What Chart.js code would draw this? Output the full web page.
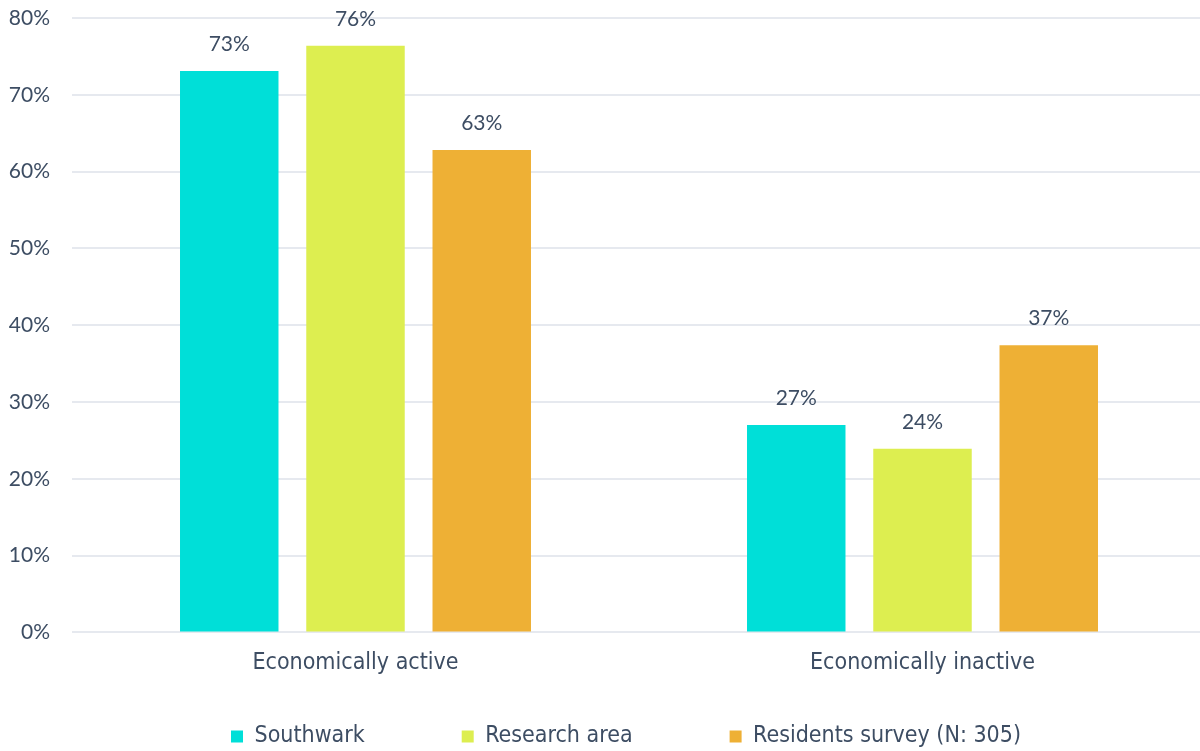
<!DOCTYPE html>
<html>
<head>
<meta charset="utf-8">
<script src="https://cdn.jsdelivr.net/npm/chart.js@4.4.1/dist/chart.umd.min.js"></script>
<style>
  html, body { margin: 0; padding: 0; background: #ffffff; }
  #wrap { width: 1200px; height: 751px; }
</style>
</head>
<body>
<div id="wrap"><canvas id="econChart" width="1200" height="751"></canvas></div>
<script>
// categories and series (percent)
const categories = ['Economically active', 'Economically inactive'];
const southwark = [73.1, 27.0];
const researchArea = [76.4, 23.9];
const residentsSurvey = [62.8, 37.4];
const seriesNames = ['Southwark', 'Research area', 'Residents survey (N: 305)'];
const seriesColors = ['#00dfd8', '#ddee50', '#eeb035'];
const yTicks = [0, 10, 20, 30, 40, 50, 60, 70, 80];

const textColor = '#3d4d63';
const labelFont = 'DejaVu Sans Condensed';
const numFont = 'Lato';

// draws the rounded value above each bar
const valueLabels = {
    id: 'valueLabels',
    afterDatasetsDraw(chart) {
        const ctx = chart.ctx;
        ctx.save();
        ctx.font = '21px ' + numFont;
        ctx.fillStyle = textColor;
        ctx.textAlign = 'center';
        ctx.textBaseline = 'bottom';
        chart.data.datasets.forEach((ds, i) => {
            chart.getDatasetMeta(i).data.forEach((bar, j) => {
                ctx.fillText(Math.round(ds.data[j]) + '%', bar.x, bar.y - 16);
            });
        });
        ctx.restore();
    }
};

// legend sits a bit right of centre, and the category axis runs slightly past the right edge
const layoutTweak = {
    id: 'layoutTweak',
    afterLayout(chart) {
        chart.legend.left += 26;
        chart.legend.right += 26;
        const x = chart.scales.x;
        x.right += 6;
        x.width += 6;
        x.configure();
    }
};

function drawChart() {
    const canvas = document.getElementById('econChart');
    if (!canvas) return;
    const ctx = canvas.getContext('2d');
    new Chart(ctx, {
        type: 'bar',
        data: {
            labels: categories,
            datasets: [southwark, researchArea, residentsSurvey].map((vals, i) => ({
                label: seriesNames[i],
                data: vals,
                backgroundColor: seriesColors[i],
                borderWidth: 0,
                categoryPercentage: 0.668,
                barPercentage: 0.78
            }))
        },
        options: {
            responsive: false,
            animation: false,
            layout: { padding: { top: 18, right: 0, bottom: -7, left: 0 } },
            scales: {
                x: {
                    grid: { display: false, drawTicks: false },
                    border: { display: false },
                    ticks: {
                        color: textColor,
                        font: { family: labelFont, size: 23 },
                        padding: 17
                    },
                    afterFit: axis => { axis.height += 26; }
                },
                y: {
                    min: 0,
                    max: 80,
                    afterBuildTicks: axis => { axis.ticks = yTicks.map(v => ({ value: v })); },
                    grid: { color: '#e6e9ef', lineWidth: 2, drawTicks: false },
                    border: { display: false },
                    ticks: {
                        color: textColor,
                        font: { family: numFont, size: 21 },
                        padding: 22,
                        callback: v => v + '%'
                    },
                    afterFit: axis => {
                        axis.width = 72;
                        axis.paddingTop = 0;
                        axis.paddingBottom = 0;
                    }
                }
            },
            plugins: {
                legend: {
                    position: 'bottom',
                    labels: {
                        color: textColor,
                        font: { family: labelFont, size: 23 },
                        boxWidth: 12,
                        boxHeight: 12,
                        padding: 5,
                        // extra trailing room between legend entries
                        generateLabels: chart => {
                            const items = Chart.defaults.plugins.legend.labels.generateLabels(chart);
                            const gaps = [14, 14];
                            items.forEach((it, i) => {
                                if (i < gaps.length) it.text = it.text + '\u00a0'.repeat(gaps[i]);
                            });
                            return items;
                        }
                    }
                },
                tooltip: { enabled: false }
            }
        },
        plugins: [valueLabels, layoutTweak]
    });
}

Promise.all([
    document.fonts.load('21px ' + numFont),
    document.fonts.load('23px "' + labelFont + '"')
]).then(drawChart, drawChart);
</script>
</body>
</html>
